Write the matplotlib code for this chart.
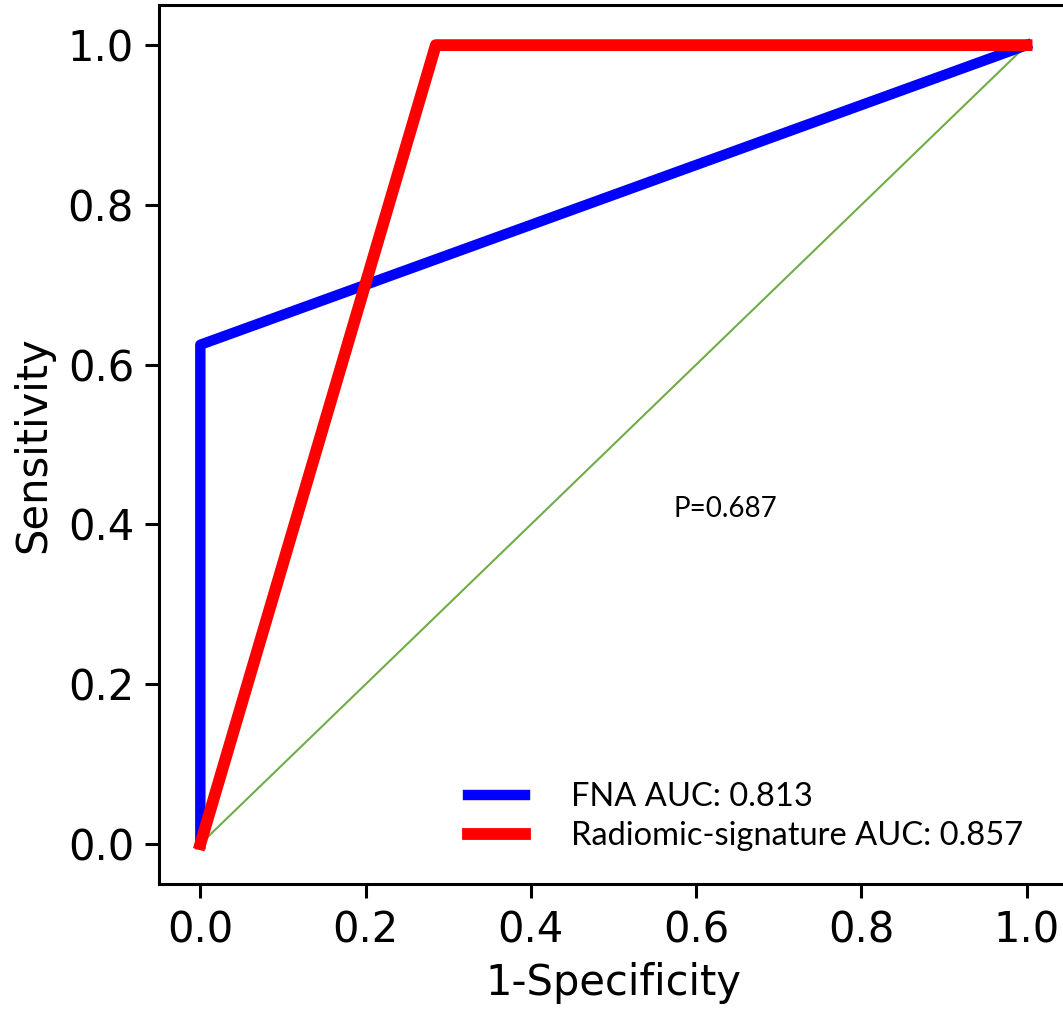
import matplotlib
matplotlib.use('Agg')
import matplotlib.pyplot as plt

fpr_fna = [0.0, 0.0, 1.0]
tpr_fna = [0.0, 0.625, 1.0]
fpr_rad = [0.0, 0.285, 1.0]
tpr_rad = [0.0, 1.0, 1.0]
diag = [0.0, 1.0]
label_fna = 'FNA AUC: 0.813'
label_rad = 'Radiomic-signature AUC: 0.857'
p_text = 'P=0.687'

fig = plt.figure(figsize=(10.63, 10.16), dpi=100)
ax = fig.add_axes([0.1496, 0.1299, 0.855, 0.865])

ax.plot(diag, diag, color='#70ad47', lw=1.5)
ax.plot(fpr_fna, tpr_fna, color='blue', lw=7.5, label=label_fna)
ax.plot(fpr_rad, tpr_rad, color='red', lw=8.5, label=label_rad)

ax.set_xlim(-0.05, 1.05)
ax.set_ylim(-0.05, 1.05)
ax.set_xticks([0, 0.2, 0.4, 0.6, 0.8, 1.0])
ax.set_yticks([0, 0.2, 0.4, 0.6, 0.8, 1.0])
ax.tick_params(labelsize=30, width=2.2, length=10, pad=8)
for s in ax.spines.values():
    s.set_linewidth(2.2)
ax.set_xlabel('1-Specificity', fontsize=30, labelpad=8)
ax.set_ylabel('Sensitivity', fontsize=30, labelpad=10)

ax.text(0.635, 0.42, p_text, fontsize=20, family='Lato', ha='center', va='center')
ax.legend(loc='lower right', frameon=False, prop={'family': 'Lato', 'size': 23.5},
          handlelength=1.75, handletextpad=1.4, labelspacing=0.27,
          bbox_to_anchor=(0.983, 0.004))

fig.savefig('out.png', dpi=100)
